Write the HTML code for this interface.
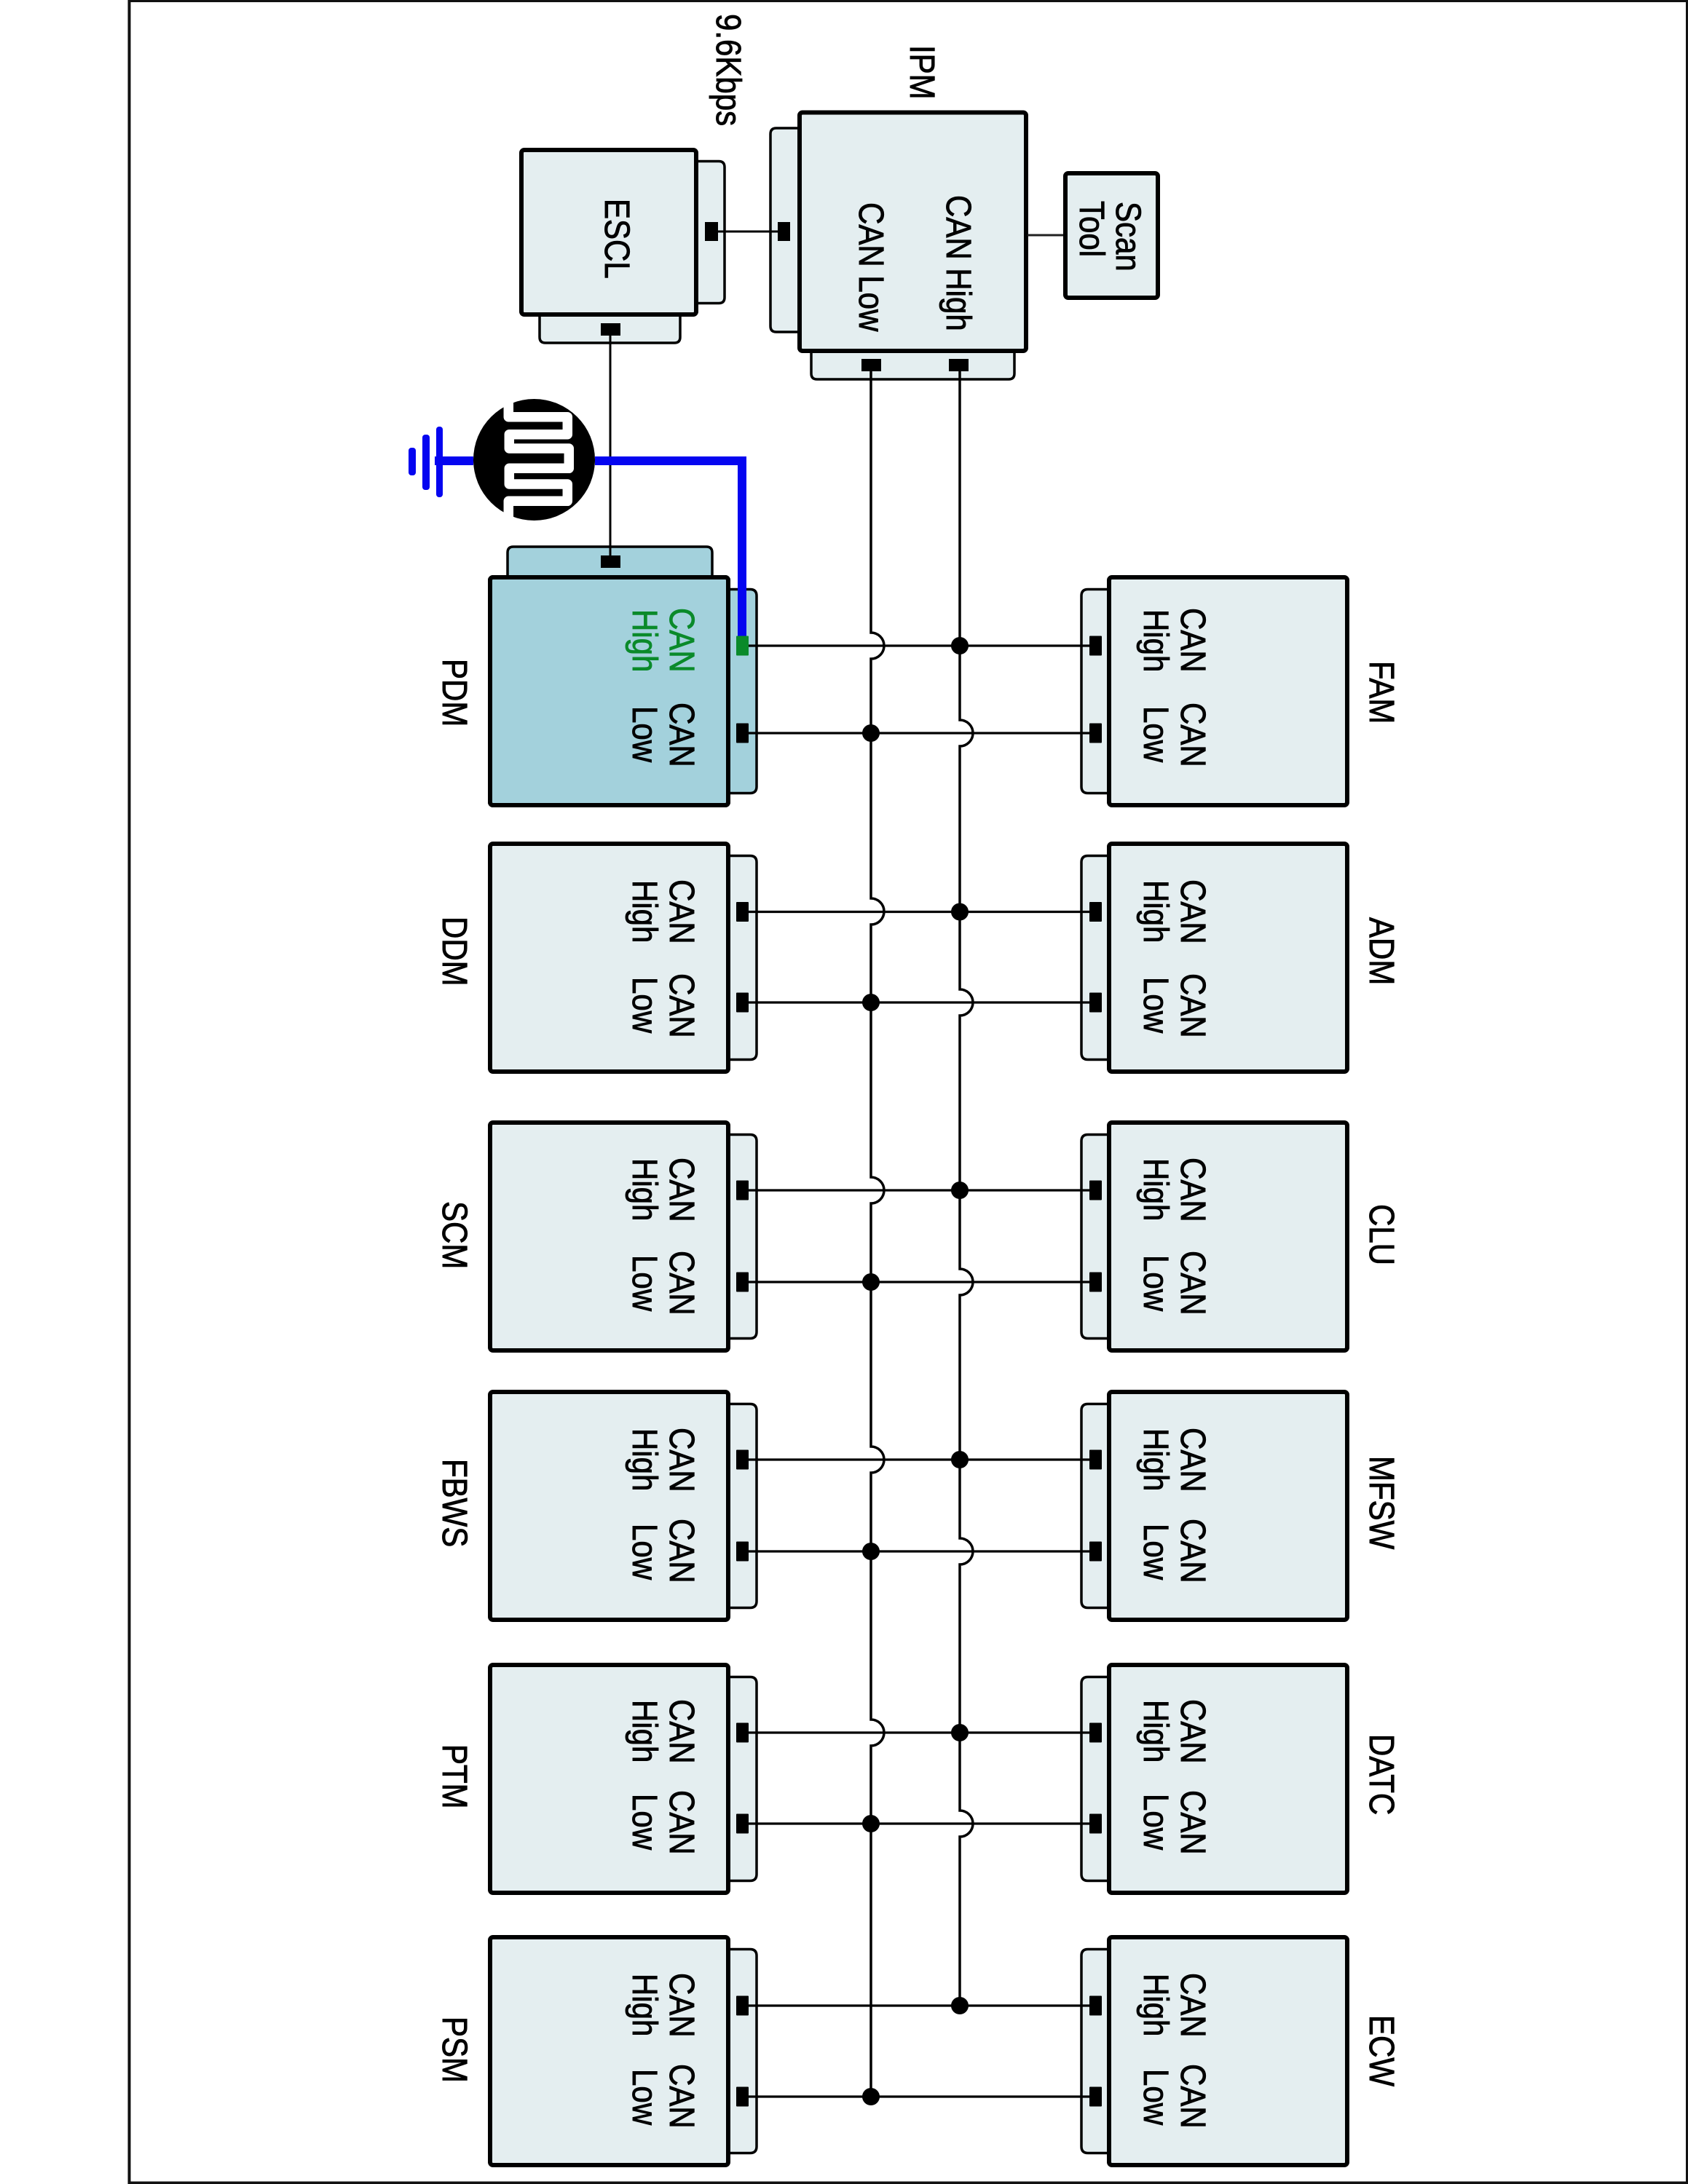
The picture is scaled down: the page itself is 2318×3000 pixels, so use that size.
<!DOCTYPE html>
<html lang="en">
<head>
<meta charset="utf-8">
<title>CAN network diagram</title>
<style>
html,body{margin:0;padding:0;background:#fff}
svg{display:block}
text{font-family:"Liberation Sans",sans-serif;font-size:42px;fill:#000;stroke:#000;stroke-width:.8px}
text.g{fill:#0a8a2a;stroke:#0a8a2a}
</style>
</head>
<body>
<svg xmlns="http://www.w3.org/2000/svg" width="2318" height="3000" viewBox="0 0 2318 3000">
<defs>
<g id="L" stroke="#000">
<path d="M1000 19.500H1030Q1039 19.500 1039 28.500V290.500Q1039 299.500 1030 299.500H1000Z" stroke-width="3.500"/>
<rect x="673" y="3" width="327" height="313" rx="4" stroke-width="6"/>
</g>
<g id="R" stroke="#000">
<path d="M1523 19.500H1494Q1485 19.500 1485 28.500V290.500Q1485 299.500 1494 299.500H1523Z" stroke-width="3.500"/>
<rect x="1523" y="3" width="327" height="313" rx="4" stroke-width="6"/>
</g>
</defs>

<rect x="177.500" y="1" width="2139.500" height="2997.500" fill="#fff" stroke="#111" stroke-width="4"/>

<!-- Module bodies -->
<use href="#L" y="790" fill="#a3d1dc"/>
<use href="#L" y="1156" fill="#e4eef0"/>
<use href="#L" y="1539" fill="#e4eef0"/>
<use href="#L" y="1909" fill="#e4eef0"/>
<use href="#L" y="2284" fill="#e4eef0"/>
<use href="#L" y="2658" fill="#e4eef0"/>
<use href="#R" y="790" fill="#e4eef0"/>
<use href="#R" y="1156" fill="#e4eef0"/>
<use href="#R" y="1539" fill="#e4eef0"/>
<use href="#R" y="1909" fill="#e4eef0"/>
<use href="#R" y="2284" fill="#e4eef0"/>
<use href="#R" y="2658" fill="#e4eef0"/>

<!-- PDM top tab -->
<path d="M697 790V759Q697 751 705 751H970Q978 751 978 759V790" fill="#a3d1dc" stroke="#000" stroke-width="3.500"/>
<rect x="673" y="793" width="327" height="313" rx="4" fill="#a3d1dc" stroke="#000" stroke-width="6"/>

<!-- ESCL -->
<path d="M956 221.500H987Q995 221.500 995 229.500V408.500Q995 416.500 987 416.500H956Z" fill="#e4eef0" stroke="#000" stroke-width="3.500"/>
<path d="M741 432V463Q741 471 749 471H926Q934 471 934 463V432Z" fill="#e4eef0" stroke="#000" stroke-width="3.500"/>
<rect x="716" y="206" width="240" height="226" rx="4" fill="#e4eef0" stroke="#000" stroke-width="6"/>

<!-- IPM -->
<path d="M1098 176H1066Q1058 176 1058 184V448Q1058 456 1066 456H1098Z" fill="#e4eef0" stroke="#000" stroke-width="3.500"/>
<path d="M1114 482V513Q1114 521 1122 521H1385Q1393 521 1393 513V482Z" fill="#e4eef0" stroke="#000" stroke-width="3.500"/>
<rect x="1098" y="154.500" width="311" height="327.500" rx="4" fill="#e4eef0" stroke="#000" stroke-width="6"/>

<!-- Scan tool -->
<rect x="1463" y="238" width="127" height="171" rx="4" fill="#e4eef0" stroke="#000" stroke-width="6"/>
<path d="M1411 323H1460" stroke="#222" stroke-width="3" fill="none"/>

<!-- Short connections -->
<path d="M986 318H1068M838 461V763" stroke="#000" stroke-width="3" fill="none"/>

<!-- Ground and sensor -->
<circle cx="733.500" cy="631.500" r="83.500" fill="#000"/>
<path d="M698.300 550V572.700H779.300V596.700H699.300V616H781.300V643.300H699.300V665H779.300V688.300H698.300V712" fill="none" stroke="#fff" stroke-width="13.500" stroke-linejoin="round"/>
<path d="M597 633H650M817 633H1019V875" fill="none" stroke="#0505f0" stroke-width="12"/>
<rect x="599" y="586" width="9" height="97" rx="4" fill="#0505f0"/>
<rect x="580" y="597" width="10" height="76" rx="4" fill="#0505f0"/>
<rect x="561" y="615" width="10" height="38" rx="4" fill="#0505f0"/>

<!-- CAN buses -->
<path d="M1196 510V869A18 18 0 0 1 1196 905V1234A18 18 0 0 1 1196 1270V1617A18 18 0 0 1 1196 1653V1987A18 18 0 0 1 1196 2023V2362A18 18 0 0 1 1196 2398V2880" fill="none" stroke="#000" stroke-width="3.500"/>
<path d="M1318 510V989A18 18 0 0 1 1318 1025V1359A18 18 0 0 1 1318 1395V1743A18 18 0 0 1 1318 1779V2113A18 18 0 0 1 1318 2149V2487A18 18 0 0 1 1318 2523V2755" fill="none" stroke="#000" stroke-width="3.500"/>

<!-- Stub lines -->
<path d="M1028 887H1496M1028 1007H1496M1028 1252.500H1496M1028 1377H1496M1028 1635H1496M1028 1761H1496M1028 2005H1496M1028 2131H1496M1028 2380H1496M1028 2505H1496M1028 2755H1496M1028 2880H1496" fill="none" stroke="#000" stroke-width="3.300"/>

<!-- Junction dots -->
<g fill="#000">
<circle cx="1318" cy="887" r="12"/><circle cx="1196" cy="1007" r="12"/>
<circle cx="1318" cy="1252.500" r="12"/><circle cx="1196" cy="1377" r="12"/>
<circle cx="1318" cy="1635" r="12"/><circle cx="1196" cy="1761" r="12"/>
<circle cx="1318" cy="2005" r="12"/><circle cx="1196" cy="2131" r="12"/>
<circle cx="1318" cy="2380" r="12"/><circle cx="1196" cy="2505" r="12"/>
<circle cx="1318" cy="2755" r="12"/><circle cx="1196" cy="2880" r="12"/>
</g>

<!-- Connector squares -->
<g fill="#000">
<rect x="1011" y="873.500" width="17" height="27" rx="1" fill="#0a8a2a"/>
<rect x="1011" y="993.500" width="17" height="27" rx="1"/>
<rect x="1011" y="1239" width="17" height="27" rx="1"/>
<rect x="1011" y="1363.500" width="17" height="27" rx="1"/>
<rect x="1011" y="1621.500" width="17" height="27" rx="1"/>
<rect x="1011" y="1747.500" width="17" height="27" rx="1"/>
<rect x="1011" y="1991.500" width="17" height="27" rx="1"/>
<rect x="1011" y="2117.500" width="17" height="27" rx="1"/>
<rect x="1011" y="2366.500" width="17" height="27" rx="1"/>
<rect x="1011" y="2491.500" width="17" height="27" rx="1"/>
<rect x="1011" y="2741.500" width="17" height="27" rx="1"/>
<rect x="1011" y="2866.500" width="17" height="27" rx="1"/>
<rect x="1496" y="873.500" width="17" height="27" rx="1"/>
<rect x="1496" y="993.500" width="17" height="27" rx="1"/>
<rect x="1496" y="1239" width="17" height="27" rx="1"/>
<rect x="1496" y="1363.500" width="17" height="27" rx="1"/>
<rect x="1496" y="1621.500" width="17" height="27" rx="1"/>
<rect x="1496" y="1747.500" width="17" height="27" rx="1"/>
<rect x="1496" y="1991.500" width="17" height="27" rx="1"/>
<rect x="1496" y="2117.500" width="17" height="27" rx="1"/>
<rect x="1496" y="2366.500" width="17" height="27" rx="1"/>
<rect x="1496" y="2491.500" width="17" height="27" rx="1"/>
<rect x="1496" y="2741.500" width="17" height="27" rx="1"/>
<rect x="1496" y="2866.500" width="17" height="27" rx="1"/>
<rect x="968" y="305" width="18" height="26"/>
<rect x="1068" y="305" width="17" height="26"/>
<rect x="825" y="444" width="27" height="17"/>
<rect x="1183" y="493" width="27" height="17"/>
<rect x="1303" y="493" width="27" height="17"/>
<rect x="825" y="763" width="27" height="17"/>
</g>

<!-- Top labels -->
<text transform="matrix(0 1 -1.15 0 984 19)">9.6Kbps</text>
<text transform="matrix(0 1 -1.15 0 1250 62)">IPM</text>
<text transform="matrix(0 1 -1.15 0 831 273)">ESCL</text>
<text transform="matrix(0 1 -1.15 0 1180 278)">CAN Low</text>
<text transform="matrix(0 1 -1.15 0 1300 268)">CAN High</text>
<text transform="matrix(0 1 -1.15 0 1533 277)">Scan</text>
<text transform="matrix(0 1 -1.15 0 1483 276)">Tool</text>

<!-- Left labels -->
<text transform="matrix(0 1 -1.15 0 608 905)">PDM</text>
<text transform="matrix(0 1 -1.15 0 608 1259)">DDM</text>
<text transform="matrix(0 1 -1.15 0 608 1650)">SCM</text>
<text transform="matrix(0 1 -1.15 0 608 2004)">FBWS</text>
<text transform="matrix(0 1 -1.15 0 608 2396)">PTM</text>
<text transform="matrix(0 1 -1.15 0 608 2770)">PSM</text>

<!-- Right labels -->
<text transform="matrix(0 1 -1.15 0 1881 908)">FAM</text>
<text transform="matrix(0 1 -1.15 0 1881 1260)">ADM</text>
<text transform="matrix(0 1 -1.15 0 1881 1654)">CLU</text>
<text transform="matrix(0 1 -1.15 0 1881 2000)">MFSW</text>
<text transform="matrix(0 1 -1.15 0 1881 2382)">DATC</text>
<text transform="matrix(0 1 -1.15 0 1881 2768)">ECW</text>

<!-- PDM -->
<text class="g" transform="matrix(0 1 -1.15 0 920 835)">CAN</text>
<text class="g" transform="matrix(0 1 -1.15 0 869 837)">High</text>
<text transform="matrix(0 1 -1.15 0 920 965)">CAN</text>
<text transform="matrix(0 1 -1.15 0 869 970)">Low</text>
<!-- DDM -->
<text transform="matrix(0 1 -1.15 0 920 1208)">CAN</text>
<text transform="matrix(0 1 -1.15 0 869 1209)">High</text>
<text transform="matrix(0 1 -1.15 0 920 1337)">CAN</text>
<text transform="matrix(0 1 -1.15 0 869 1342)">Low</text>
<!-- SCM -->
<text transform="matrix(0 1 -1.15 0 920 1590)">CAN</text>
<text transform="matrix(0 1 -1.15 0 869 1591)">High</text>
<text transform="matrix(0 1 -1.15 0 920 1718)">CAN</text>
<text transform="matrix(0 1 -1.15 0 869 1724)">Low</text>
<!-- FBWS -->
<text transform="matrix(0 1 -1.15 0 920 1961)">CAN</text>
<text transform="matrix(0 1 -1.15 0 869 1962)">High</text>
<text transform="matrix(0 1 -1.15 0 920 2086)">CAN</text>
<text transform="matrix(0 1 -1.15 0 869 2093)">Low</text>
<!-- PTM -->
<text transform="matrix(0 1 -1.15 0 920 2334)">CAN</text>
<text transform="matrix(0 1 -1.15 0 869 2335)">High</text>
<text transform="matrix(0 1 -1.15 0 920 2459)">CAN</text>
<text transform="matrix(0 1 -1.15 0 869 2464)">Low</text>
<!-- PSM -->
<text transform="matrix(0 1 -1.15 0 920 2710)">CAN</text>
<text transform="matrix(0 1 -1.15 0 869 2711)">High</text>
<text transform="matrix(0 1 -1.15 0 920 2835)">CAN</text>
<text transform="matrix(0 1 -1.15 0 869 2842)">Low</text>

<!-- FAM -->
<text transform="matrix(0 1 -1.15 0 1622 835)">CAN</text>
<text transform="matrix(0 1 -1.15 0 1571 837)">High</text>
<text transform="matrix(0 1 -1.15 0 1622 965)">CAN</text>
<text transform="matrix(0 1 -1.15 0 1571 970)">Low</text>
<!-- ADM -->
<text transform="matrix(0 1 -1.15 0 1622 1208)">CAN</text>
<text transform="matrix(0 1 -1.15 0 1571 1209)">High</text>
<text transform="matrix(0 1 -1.15 0 1622 1337)">CAN</text>
<text transform="matrix(0 1 -1.15 0 1571 1342)">Low</text>
<!-- CLU -->
<text transform="matrix(0 1 -1.15 0 1622 1590)">CAN</text>
<text transform="matrix(0 1 -1.15 0 1571 1591)">High</text>
<text transform="matrix(0 1 -1.15 0 1622 1718)">CAN</text>
<text transform="matrix(0 1 -1.15 0 1571 1724)">Low</text>
<!-- MFSW -->
<text transform="matrix(0 1 -1.15 0 1622 1961)">CAN</text>
<text transform="matrix(0 1 -1.15 0 1571 1962)">High</text>
<text transform="matrix(0 1 -1.15 0 1622 2086)">CAN</text>
<text transform="matrix(0 1 -1.15 0 1571 2093)">Low</text>
<!-- DATC -->
<text transform="matrix(0 1 -1.15 0 1622 2334)">CAN</text>
<text transform="matrix(0 1 -1.15 0 1571 2335)">High</text>
<text transform="matrix(0 1 -1.15 0 1622 2459)">CAN</text>
<text transform="matrix(0 1 -1.15 0 1571 2464)">Low</text>
<!-- ECW -->
<text transform="matrix(0 1 -1.15 0 1622 2710)">CAN</text>
<text transform="matrix(0 1 -1.15 0 1571 2711)">High</text>
<text transform="matrix(0 1 -1.15 0 1622 2835)">CAN</text>
<text transform="matrix(0 1 -1.15 0 1571 2842)">Low</text>
</svg>
</body>
</html>
